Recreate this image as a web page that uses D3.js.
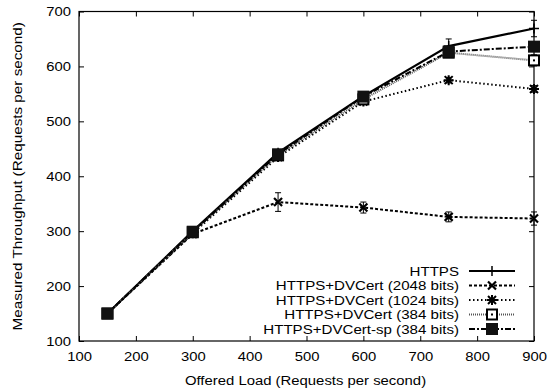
<!DOCTYPE html>
<html>
<head>
<meta charset="utf-8">
<script src="https://cdn.jsdelivr.net/npm/d3@7"></script>
<style>
  body { margin: 0; background: #fff; }
  svg { font-family: "Liberation Sans", Arial, sans-serif; }
</style>
</head>
<body>
<div id="chart"></div>
<script>
// offered load (x)
const loads = [150, 300, 450, 600, 750, 900];
const xTicks = [100, 200, 300, 400, 500, 600, 700, 800, 900];
const yTicks = [100, 200, 300, 400, 500, 600, 700];

const seriesNames = [
  'HTTPS',
  'HTTPS+DVCert (2048 bits)',
  'HTTPS+DVCert (1024 bits)',
  'HTTPS+DVCert (384 bits)',
  'HTTPS+DVCert-sp (384 bits)'
];
const httpsVals = [150, 300, 443, 546, 637, 669];
const cert2048Vals = [150, 295, 353, 343, 326, 323];
const cert1024Vals = [150, 296, 435, 536, 575, 559];
const cert384Vals = [150, 298, 438, 540, 625, 611];
const certSpVals = [150, 299, 440, 545, 627, 636];

// error (half-width) per point
const httpsErr = [2, 3, 5, 6, 13, 15];
const cert2048Err = [2, 3, 17, 10, 9, 12];
const cert1024Err = [2, 3, 4, 5, 5, 6];
const cert384Err = [2, 3, 4, 5, 5, 10];
const certSpErr = [2, 3, 4, 5, 5, 5];

const W = 547, H = 390;
const margin = { top: 11.5, right: 13, bottom: 49, left: 79 };
const innerW = W - margin.left - margin.right;
const innerH = H - margin.top - margin.bottom;

const svg = d3.select('#chart').append('svg')
  .attr('width', W).attr('height', H);

const g = svg.append('g')
  .attr('transform', `translate(${margin.left},${margin.top})`);

const x = d3.scaleLinear().domain([100, 900]).range([0, innerW]);
const y = d3.scaleLinear().domain([100, 700]).range([innerH, 0]);

// the original font is a wide helvetica, so stretch text horizontally
function stretch(sel, f) {
  sel.each(function () {
    const len = this.getComputedTextLength();
    d3.select(this).attr('textLength', len * f).attr('lengthAdjust', 'spacingAndGlyphs');
  });
}

// Axes (gnuplot style: inward ticks on all sides)
const axisStyle = sel => {
  sel.select('.domain').remove();
  sel.selectAll('line').attr('stroke', '#000').attr('stroke-width', 1);
  sel.selectAll('text').attr('fill', '#000').attr('font-size', 13)
    .attr('font-family', '"Liberation Sans", Arial, sans-serif');
};

g.append('g')
  .attr('transform', `translate(0,${innerH})`)
  .call(d3.axisBottom(x).tickValues(xTicks).tickSizeInner(-5).tickSizeOuter(0).tickPadding(11))
  .call(axisStyle)
  .selectAll('text').call(stretch, 1.14);

g.append('g')
  .call(d3.axisTop(x).tickValues(xTicks).tickSizeInner(-5).tickSizeOuter(0).tickFormat(() => ''))
  .call(axisStyle);

g.append('g')
  .call(d3.axisLeft(y).tickValues(yTicks).tickSizeInner(-5).tickSizeOuter(0).tickPadding(8))
  .call(axisStyle)
  .selectAll('text').call(stretch, 1.14);

g.append('g')
  .attr('transform', `translate(${innerW},0)`)
  .call(d3.axisRight(y).tickValues(yTicks).tickSizeInner(-5).tickSizeOuter(0).tickFormat(() => ''))
  .call(axisStyle);

g.append('rect')
  .attr('x', 0).attr('y', 0).attr('width', innerW).attr('height', innerH)
  .attr('fill', 'none').attr('stroke', '#000').attr('stroke-width', 1.2);

// Axis titles
svg.append('text')
  .attr('x', margin.left + innerW / 2 - 1).attr('y', 385)
  .attr('text-anchor', 'middle').attr('font-size', 12.5)
  .text('Offered Load (Requests per second)')
  .call(stretch, 1.19);

svg.append('text')
  .attr('transform', `translate(22,${margin.top + innerH / 2}) rotate(-90)`)
  .attr('text-anchor', 'middle').attr('font-size', 12.5)
  .text('Measured Throughput (Requests per second)')
  .call(stretch, 1.22);

// Markers
function drawMarker(sel, type, cx, cy) {
  const s = 5;
  if (type === 'plus') {
    sel.append('path').attr('d', `M${cx - s},${cy}H${cx + s}M${cx},${cy - s}V${cy + s}`)
      .attr('stroke', '#000').attr('stroke-width', 1.5).attr('fill', 'none');
  } else if (type === 'cross') {
    sel.append('path').attr('d', `M${cx - 4},${cy - 4}L${cx + 4},${cy + 4}M${cx - 4},${cy + 4}L${cx + 4},${cy - 4}`)
      .attr('stroke', '#000').attr('stroke-width', 2.2).attr('fill', 'none');
  } else if (type === 'star') {
    sel.append('path').attr('d', `M${cx - 4},${cy - 4}L${cx + 4},${cy + 4}M${cx - 4},${cy + 4}L${cx + 4},${cy - 4}M${cx - 5},${cy}H${cx + 5}M${cx},${cy - 5}V${cy + 5}`)
      .attr('stroke', '#000').attr('stroke-width', 2).attr('fill', 'none');
  } else if (type === 'openSquare') {
    sel.append('rect').attr('x', cx - 5).attr('y', cy - 5).attr('width', 10).attr('height', 10)
      .attr('fill', '#fff').attr('stroke', '#000').attr('stroke-width', 2);
    sel.append('rect').attr('x', cx - 1).attr('y', cy - 1).attr('width', 2).attr('height', 2)
      .attr('fill', '#000');
  } else if (type === 'filledSquare') {
    sel.append('rect').attr('x', cx - 6).attr('y', cy - 6).attr('width', 12).attr('height', 12)
      .attr('fill', '#111');
  }
}

const series = [
  { name: seriesNames[0], vals: httpsVals, err: httpsErr, dash: null, width: 2.2, color: '#000', marker: 'plus' },
  { name: seriesNames[1], vals: cert2048Vals, err: cert2048Err, dash: '3,2', width: 2, color: '#000', marker: 'cross' },
  { name: seriesNames[2], vals: cert1024Vals, err: cert1024Err, dash: '1.5,2.5', width: 2, color: '#000', marker: 'star' },
  { name: seriesNames[3], vals: cert384Vals, err: cert384Err, dash: '1,1', width: 2, color: '#555', marker: 'openSquare' },
  { name: seriesNames[4], vals: certSpVals, err: certSpErr, dash: '6,2,2,2', width: 2, color: '#000', marker: 'filledSquare' }
];

const line = d3.line().x(d => x(d[0])).y(d => y(d[1]));

series.forEach(s => {
  const pts = loads.map((l, i) => [l, s.vals[i], s.err[i]]);
  const sg = g.append('g');
  sg.append('path')
    .datum(pts)
    .attr('d', line)
    .attr('fill', 'none')
    .attr('stroke', s.color)
    .attr('stroke-width', s.width)
    .attr('stroke-dasharray', s.dash);

  // error bars
  pts.forEach(p => {
    const cx = x(p[0]);
    const y1 = y(p[1] + p[2]), y2 = y(p[1] - p[2]);
    sg.append('path')
      .attr('d', `M${cx},${y1}V${y2}M${cx - 3},${y1}H${cx + 3}M${cx - 3},${y2}H${cx + 3}`)
      .attr('stroke', '#000').attr('stroke-width', 1).attr('fill', 'none');
  });

  pts.forEach(p => drawMarker(sg, s.marker, x(p[0]), y(p[1])));
});

// Legend
const legend = svg.append('g');
const legTextX = 459, legY0 = 271, legStep = 14.5;
series.forEach((s, i) => {
  const ly = legY0 + i * legStep;
  legend.append('text')
    .attr('x', legTextX).attr('y', ly + 4.5)
    .attr('text-anchor', 'end').attr('font-size', 13)
    .text(s.name)
    .call(stretch, 1.16);
  legend.append('line')
    .attr('x1', 469).attr('x2', 515).attr('y1', ly).attr('y2', ly)
    .attr('stroke', s.color).attr('stroke-width', s.width)
    .attr('stroke-dasharray', s.dash);
  drawMarker(legend, s.marker, 492, ly);
});
</script>
</body>
</html>
